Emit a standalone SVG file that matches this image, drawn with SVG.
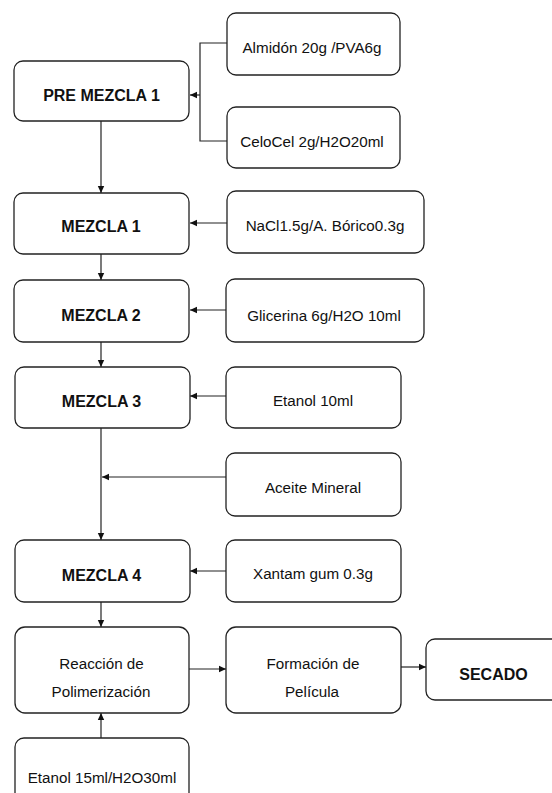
<svg xmlns="http://www.w3.org/2000/svg" width="552" height="793" viewBox="0 0 552 793">
<style>
.box{fill:#fff;stroke:#222;stroke-width:1.3}
.t{font-family:"Liberation Sans",Arial,sans-serif;font-size:15.2px;fill:#111;text-anchor:middle}
.b{font-family:"Liberation Sans",Arial,sans-serif;font-size:16px;font-weight:bold;fill:#111;text-anchor:middle}
.c{fill:none;stroke:#222;stroke-width:1.2}
</style>
<defs>
<marker id="ah" markerUnits="userSpaceOnUse" markerWidth="8" markerHeight="8" refX="7" refY="4" orient="auto">
<path d="M0,0.8 L7,4 L0,7.2 Z" fill="#111"/>
</marker>
</defs>
<rect width="552" height="793" fill="#fff"/>
<g id="connectors">
<path class="c" d="M227,43 H200 V141 H227"/>
<path class="c" d="M200,95 H190" marker-end="url(#ah)"/>
<path class="c" d="M101,121 V193" marker-end="url(#ah)"/>
<path class="c" d="M227,223 H190" marker-end="url(#ah)"/>
<path class="c" d="M101,254 V280" marker-end="url(#ah)"/>
<path class="c" d="M226,310 H190" marker-end="url(#ah)"/>
<path class="c" d="M101,342 V367" marker-end="url(#ah)"/>
<path class="c" d="M226,396 H190" marker-end="url(#ah)"/>
<path class="c" d="M101,428 V540" marker-end="url(#ah)"/>
<path class="c" d="M226,477 H102" marker-end="url(#ah)"/>
<path class="c" d="M226,571 H190" marker-end="url(#ah)"/>
<path class="c" d="M101,602 V627" marker-end="url(#ah)"/>
<path class="c" d="M189,669 H226" marker-end="url(#ah)"/>
<path class="c" d="M401,667 H426" marker-end="url(#ah)"/>
<path class="c" d="M101,738 V713" marker-end="url(#ah)"/>
</g>
<g id="pre-mezcla-1"><rect class="box" x="14" y="61" width="175" height="60" rx="9"/><text class="b" x="101.5" y="101">PRE MEZCLA 1</text></g>
<g id="almidon"><rect class="box" x="227" y="13" width="173" height="62" rx="9"/><text class="t" x="312" y="53">Almidón 20g /PVA6g</text></g>
<g id="celocel"><rect class="box" x="227" y="107" width="173" height="61" rx="9"/><text class="t" x="312" y="147">CeloCel 2g/H2O20ml</text></g>
<g id="mezcla-1"><rect class="box" x="14" y="193" width="175" height="61" rx="9"/><text class="b" x="101" y="232">MEZCLA 1</text></g>
<g id="nacl"><rect class="box" x="227" y="191" width="197" height="62" rx="9"/><text class="t" x="325" y="231">NaCl1.5g/A. Bórico0.3g</text></g>
<g id="mezcla-2"><rect class="box" x="14" y="280" width="175" height="62" rx="9"/><text class="b" x="101" y="321">MEZCLA 2</text></g>
<g id="glicerina"><rect class="box" x="226" y="279" width="198" height="63" rx="9"/><text class="t" x="324" y="321">Glicerina 6g/H2O 10ml</text></g>
<g id="mezcla-3"><rect class="box" x="15" y="367" width="175" height="61" rx="9"/><text class="b" x="101.5" y="406.5">MEZCLA 3</text></g>
<g id="etanol-10"><rect class="box" x="226" y="367" width="175" height="61" rx="9"/><text class="t" x="313" y="405.5">Etanol 10ml</text></g>
<g id="aceite"><rect class="box" x="226" y="453" width="175" height="63" rx="9"/><text class="t" x="313" y="493">Aceite Mineral</text></g>
<g id="mezcla-4"><rect class="box" x="15" y="540" width="175" height="62" rx="9"/><text class="b" x="101.5" y="581">MEZCLA 4</text></g>
<g id="xantam"><rect class="box" x="226" y="540" width="175" height="62" rx="9"/><text class="t" x="313" y="579">Xantam gum 0.3g</text></g>
<g id="reaccion"><rect class="box" x="15" y="627" width="174" height="86" rx="10"/><text class="t" x="101.5" y="669">Reacción de</text><text class="t" x="101" y="697">Polimerización</text></g>
<g id="formacion"><rect class="box" x="226" y="627" width="175" height="86" rx="10"/><text class="t" x="313" y="669">Formación de</text><text class="t" x="312" y="697">Película</text></g>
<g id="secado"><rect class="box" x="426" y="639" width="135" height="61" rx="9"/><text class="b" x="493.5" y="680">SECADO</text></g>
<g id="etanol-15"><rect class="box" x="15" y="738" width="174" height="70" rx="9"/><text class="t" x="102" y="783">Etanol 15ml/H2O30ml</text></g>
</svg>
